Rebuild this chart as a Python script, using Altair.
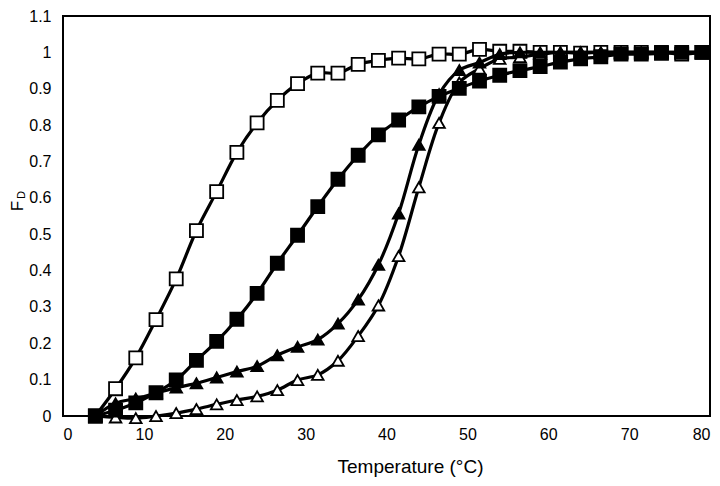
import altair as alt
import pandas as pd

# Temperatures (°C)
temps = [4, 6.5, 9, 11.5, 14, 16.5, 19, 21.5, 24, 26.5, 29, 31.5, 34, 36.5, 39,
         41.5, 44, 46.5, 49, 51.5, 54, 56.5, 59, 61.5, 64, 66.5, 69, 71.5, 74, 76.5, 79]

open_squares = [0, 0.075, 0.16, 0.265, 0.377, 0.51, 0.617, 0.725, 0.806, 0.868, 0.914,
                0.943, 0.943, 0.967, 0.978, 0.984, 0.982, 0.995, 0.995, 1.008, 1.003,
                1.003, 1.0, 1.0, 0.998, 1.0, 1.0, 1.0, 1.0, 0.995, 1.0]
filled_squares = [0, 0.016, 0.036, 0.064, 0.099, 0.153, 0.205, 0.266, 0.337, 0.42, 0.497,
                  0.576, 0.651, 0.717, 0.773, 0.814, 0.85, 0.879, 0.901, 0.921, 0.937,
                  0.95, 0.961, 0.973, 0.982, 0.988, 0.995, 0.995, 0.997, 1.0, 1.0]
filled_triangles = [0, 0.035, 0.048, 0.063, 0.078, 0.09, 0.106, 0.122, 0.137, 0.167, 0.19,
                    0.21, 0.254, 0.32, 0.416, 0.557, 0.746, 0.885, 0.951, 0.972, 0.995,
                    1.0, 1.0, 1.0, 1.0, 1.0, 1.0, 1.0, 1.0, 1.0, 1.0]
open_triangles = [0, -0.004, -0.006, 0.0, 0.008, 0.019, 0.032, 0.044, 0.054, 0.071, 0.099,
                  0.113, 0.152, 0.22, 0.304, 0.44, 0.629, 0.806, 0.917, 0.955, 0.982,
                  0.987, 0.995, 1.0, 1.0, 1.0, 1.0, 1.0, 1.0, 1.0, 1.0]

x_ticks = [0, 10, 20, 30, 40, 50, 60, 70, 80]
y_ticks = [0, 0.1, 0.2, 0.3, 0.4, 0.5, 0.6, 0.7, 0.8, 0.9, 1.0, 1.1]

FONT = "Liberation Sans"

x_scale = alt.Scale(domain=[0, 80], nice=False, zero=False)
y_scale = alt.Scale(domain=[0, 1.1], nice=False, zero=False)

x_axis = alt.Axis(values=x_ticks, title="Temperature (°C)", grid=False, domain=False,
                  ticks=False, labelFontSize=16, labelPadding=10, labelFont=FONT,
                  labelColor="black", titleFont=FONT, titleFontSize=19,
                  titleFontWeight="normal", titleColor="black",
                  titleX=347, titleY=56, titleBaseline="alphabetic", titleAlign="center")
y_axis = alt.Axis(values=y_ticks, title=None, grid=False, domain=False, ticks=False,
                  labelFontSize=16, labelPadding=12, labelFont=FONT, labelColor="black",
                  labelExpr="format(datum.value, '.1~f')")

X = alt.X("T:Q", scale=x_scale, axis=x_axis)
Y = alt.Y("F:Q", scale=y_scale, axis=y_axis)


def series(vals, shape, filled):
    df = pd.DataFrame({"T": temps, "F": vals})
    base = alt.Chart(df)
    line = base.mark_line(color="black", strokeWidth=3.2, interpolate="catmull-rom").encode(
        x=X, y=Y)
    pts = base.mark_point(shape=shape, filled=True, fill="black" if filled else "white",
                          stroke="black", strokeWidth=1.8, opacity=1,
                          size=170 if shape == "square" else 135).encode(x=X, y=Y)
    return line + pts


label_df = pd.DataFrame({"t": ["F"]})
title_F = alt.Chart(label_df).mark_text(angle=270, font=FONT, fontSize=17, align="center",
                                        baseline="alphabetic", color="black").encode(
    x=alt.value(-40), y=alt.value(190), text=alt.value("F"))
title_D = alt.Chart(label_df).mark_text(angle=270, font=FONT, fontSize=11, align="center",
                                        baseline="alphabetic", color="black").encode(
    x=alt.value(-38), y=alt.value(179), text=alt.value("D"))

chart = alt.layer(
    series(open_squares, "square", False),
    series(open_triangles, "triangle-up", False),
    series(filled_squares, "square", True),
    series(filled_triangles, "triangle-up", True),
    title_F,
    title_D,
).properties(
    width=647, height=400,
    background="white",
    autosize=alt.AutoSizeParams(type="none"),
    padding={"left": 55, "top": 8, "right": 2, "bottom": 62},
).configure_view(stroke="black", strokeWidth=2)

chart.save("out.html", embed_options={"renderer": "svg", "actions": False})
